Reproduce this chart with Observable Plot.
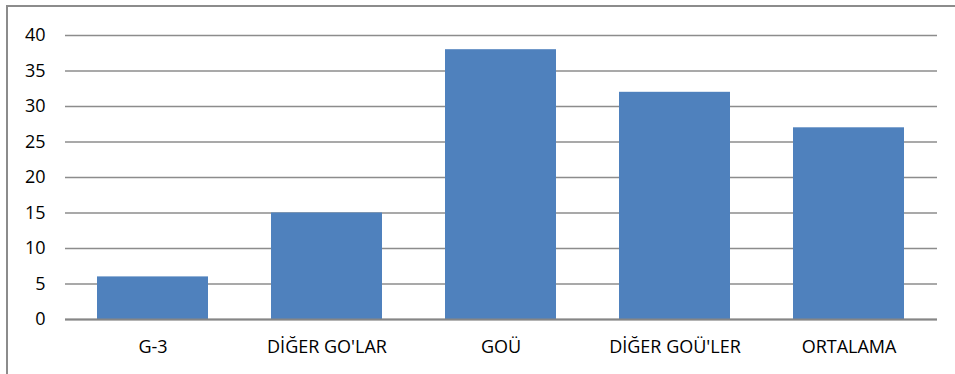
<!DOCTYPE html>
<html>
<head>
<meta charset="utf-8">
<script src="https://cdn.jsdelivr.net/npm/d3@7"></script>
<script src="https://cdn.jsdelivr.net/npm/@observablehq/plot@0.6"></script>
<style>
  html, body { margin: 0; padding: 0; background: #fff; overflow: hidden; }
  #wrap { position: relative; width: 955px; height: 374px; }
  #frame { position: absolute; left: 6px; top: 5px; width: 970px; height: 400px; border: 2px solid #8c8c8c; box-sizing: border-box; }
  #chart { position: absolute; left: 0; top: 0; }
</style>
</head>
<body>
<div id="wrap"><div id="frame"></div><div id="chart"></div></div>
<script>
const categories = ["G-3", "DİĞER GO'LAR", "GOÜ", "DİĞER GOÜ'LER", "ORTALAMA"];
const values = [6, 15, 38, 32, 27];
const yTicks = [0, 5, 10, 15, 20, 25, 30, 35, 40];

const data = categories.map((c, i) => ({category: c, value: values[i]}));

const chart = Plot.plot({
  width: 955,
  height: 374,
  marginLeft: 65,
  marginRight: 18,
  marginTop: 35,
  marginBottom: 55,
  style: {fontFamily: "'Open Sans', sans-serif", color: "#000", background: "transparent"},
  x: {domain: categories, paddingInner: 0.36, paddingOuter: 0.18, label: null},
  y: {domain: [0, 40], label: null},
  marks: [
    Plot.gridY(yTicks, {stroke: "#8c8c8c", strokeOpacity: 1, strokeWidth: 1.5}),
    Plot.barY(data, {x: "category", y: "value", fill: "#4f81bd"}),
    Plot.ruleX([0], {frameAnchor: "left", stroke: "#8c8c8c", strokeWidth: 1.5}),
    Plot.ruleY([0], {stroke: "#868686", strokeWidth: 2}),
    Plot.axisY(yTicks, {tickSize: 0, tickPadding: 20, fontSize: 18, fill: "#000", label: null}),
    Plot.axisX({tickSize: 0, tickPadding: 21, fontSize: 18, fill: "#000", label: null})
  ]
});
document.getElementById("chart").appendChild(chart);
</script>
</body>
</html>
